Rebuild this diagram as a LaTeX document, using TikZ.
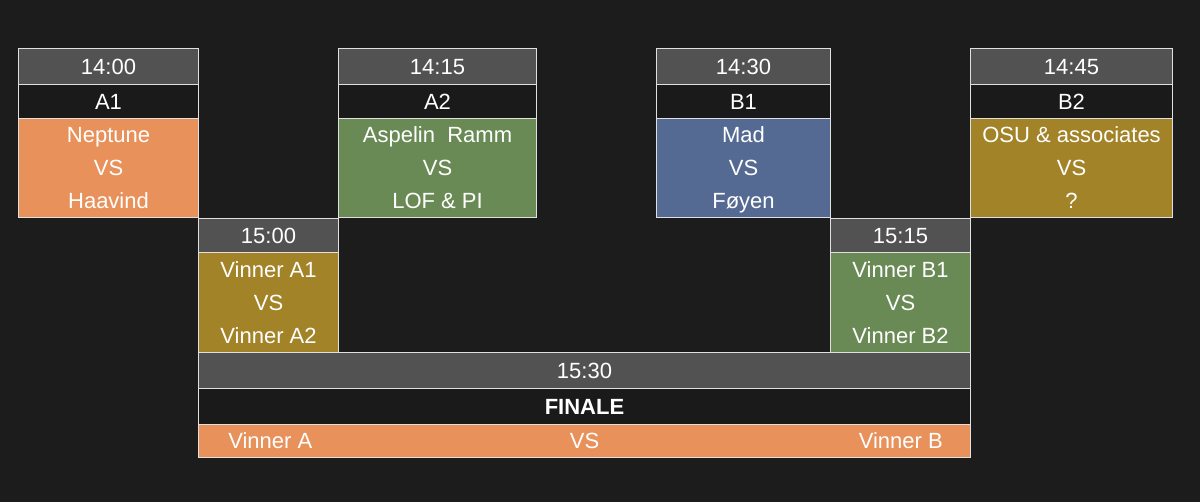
\documentclass[tikz,border=0pt]{standalone}
\usepackage{fontspec}
\setmainfont{Liberation Sans}
\definecolor{bgc}{HTML}{1C1C1C}
\definecolor{hdr}{HTML}{525252}
\definecolor{blk}{HTML}{1A1A1A}
\definecolor{bordc}{HTML}{E0E0E0}
\definecolor{orng}{HTML}{E8915A}
\definecolor{grn}{HTML}{6A8A55}
\definecolor{blu}{HTML}{556A92}
\definecolor{olv}{HTML}{A38328}
\newcommand\mys{\rule[-6.5pt]{0pt}{24.75pt}}
\begin{document}
\begin{tikzpicture}[x=0.75pt,y=-0.75pt,
  cell/.style={draw=bordc, line width=0.75pt, anchor=north west, inner sep=0pt,
    text=white, font=\fontsize{16.5}{24.75}\selectfont, align=center},
  txt/.style={inner sep=0pt, text=white, font=\fontsize{16.5}{24.75}\selectfont}]
\fill[bgc] (0,0) rectangle (1200,502);
\useasboundingbox (0,0) rectangle (1200,502);
% column 1
\node[cell, fill=hdr, minimum width={180*0.75pt}, minimum height={36*0.75pt}] (t1) at (18,48) {\mys 14:00};
\node[cell, fill=blk, minimum width={180*0.75pt}, minimum height={34*0.75pt}] (a1) at (18,84) {\mys A1};
\node[cell, fill=orng, minimum width={180*0.75pt}, minimum height={98*0.75pt}] (m1) at (18,118) {\mys Neptune\\\mys VS\\\mys Haavind};
% column 2
\node[cell, fill=hdr, minimum width={198*0.75pt}, minimum height={36*0.75pt}] (t2) at (338,48) {\mys 14:15};
\node[cell, fill=blk, minimum width={198*0.75pt}, minimum height={34*0.75pt}] (a2) at (338,84) {\mys A2};
\node[cell, fill=grn, minimum width={198*0.75pt}, minimum height={98*0.75pt}] (m2) at (338,118) {\mys Aspelin\hspace{0.56em}Ramm\\\mys VS\\\mys LOF \& PI};
% column 3
\node[cell, fill=hdr, minimum width={174*0.75pt}, minimum height={36*0.75pt}] (t3) at (656,48) {\mys 14:30};
\node[cell, fill=blk, minimum width={174*0.75pt}, minimum height={34*0.75pt}] (b1) at (656,84) {\mys B1};
\node[cell, fill=blu, minimum width={174*0.75pt}, minimum height={98*0.75pt}] (m3) at (656,118) {\mys Mad\\\mys VS\\\mys Føyen};
% column 4
\node[cell, fill=hdr, minimum width={202*0.75pt}, minimum height={36*0.75pt}] (t4) at (970,48) {\mys 14:45};
\node[cell, fill=blk, minimum width={202*0.75pt}, minimum height={34*0.75pt}] (b2) at (970,84) {\mys B2};
\node[cell, fill=olv, minimum width={202*0.75pt}, minimum height={98*0.75pt}] (m4) at (970,118) {\mys OSU \& associates\\\mys VS\\\mys ?};
% semifinals
\node[cell, fill=hdr, minimum width={140*0.75pt}, minimum height={34*0.75pt}] (t5) at (198,218) {\mys 15:00};
\node[cell, fill=olv, minimum width={140*0.75pt}, minimum height={100*0.75pt}] (s1) at (198,252) {\mys Vinner A1\\\mys VS\\\mys Vinner A2};
\node[cell, fill=hdr, minimum width={140*0.75pt}, minimum height={34*0.75pt}] (t6) at (830,218) {\mys 15:15};
\node[cell, fill=grn, minimum width={140*0.75pt}, minimum height={100*0.75pt}] (s2) at (830,252) {\mys Vinner B1\\\mys VS\\\mys Vinner B2};
% final
\node[cell, fill=hdr, minimum width={772*0.75pt}, minimum height={36*0.75pt}] (t7) at (198,352) {\mys 15:30};
\node[cell, fill=blk, minimum width={772*0.75pt}, minimum height={36*0.75pt}, font=\fontsize{16.5}{24.75}\selectfont\bfseries] (fin) at (198,388) {\mys FINALE};
\node[cell, fill=orng, minimum width={772*0.75pt}, minimum height={32*0.75pt}] (fo) at (198,424) {\mys VS};
\node[txt, anchor=west] (va) at ([xshift={30*0.75pt}]fo.west) {\mys Vinner A};
\node[txt, anchor=east] (vb) at ([xshift={-28*0.75pt}]fo.east) {\mys Vinner B};
\end{tikzpicture}
\end{document}
